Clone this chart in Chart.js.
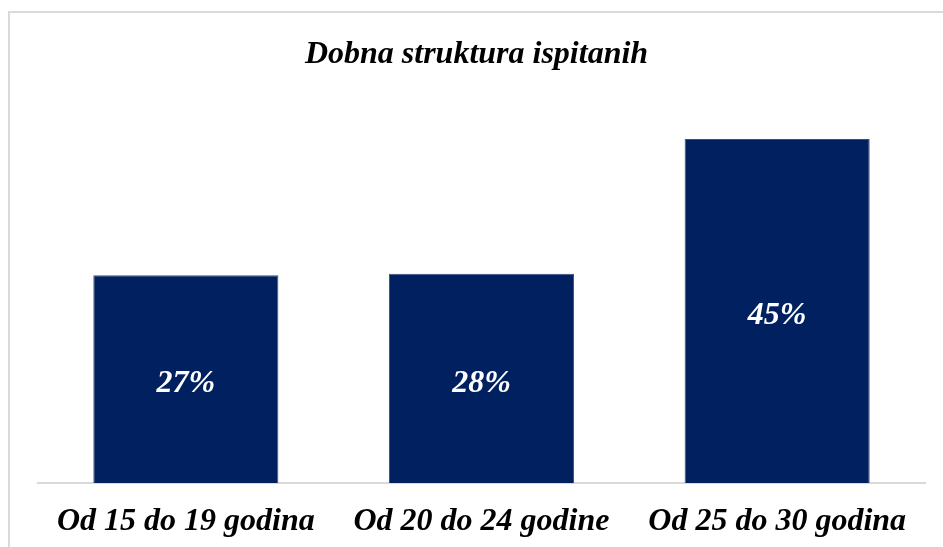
<!doctype html>
<html>
<head>
<meta charset="utf-8">
<title>Dobna struktura ispitanih</title>
<script src="https://cdn.jsdelivr.net/npm/chart.js"></script>
<style>
  html, body { margin: 0; padding: 0; background: #fff; }
  .wrap { position: relative; width: 943px; height: 547px; overflow: hidden; }
  .frame { position: absolute; left: 8px; top: 11px; width: 960px; height: 560px; border: 2px solid #d9d9d9; box-sizing: border-box; }
  canvas { position: absolute; left: 0; top: 0; }
</style>
</head>
<body>
<div class="wrap">
  <div class="frame"></div>
  <canvas id="c" width="943" height="547"></canvas>
</div>
<script>
const categories = ['Od 15 do 19 godina', 'Od 20 do 24 godine', 'Od 25 do 30 godina'];
const shares = [27.3, 27.5, 45.2];
const chartTitle = 'Dobna struktura ispitanih';

const serif = '"Liberation Serif", "Times New Roman", serif';

// white % labels in the middle of each bar
const barLabels = {
  id: 'barLabels',
  afterLayout(chart) {
    // title sits centred on the whole frame, not the plot area
    if (chart.titleBlock) chart.titleBlock.left -= 10;
  },
  afterDatasetsDraw(chart) {
    const ctx = chart.ctx;
    const meta = chart.getDatasetMeta(0);
    ctx.save();
    ctx.fillStyle = '#ffffff';
    ctx.font = 'italic bold 32px ' + serif;
    ctx.textAlign = 'center';
    ctx.textBaseline = 'middle';
    meta.data.forEach((bar, i) => {
      const mid = (bar.y + bar.base) / 2;
      ctx.fillText(Math.round(shares[i]) + '%', bar.x, mid + 5);
    });
    ctx.restore();
  }
};

new Chart(document.getElementById('c'), {
  type: 'bar',
  data: {
    labels: categories,
    datasets: [{
      data: shares,
      backgroundColor: '#002060',
      borderColor: '#3d4f80',
      borderWidth: 1,
      categoryPercentage: 1,
      barPercentage: 0.626
    }]
  },
  options: {
    responsive: false,
    animation: false,
    layout: { padding: { left: 38, right: 18, top: 0, bottom: 8 } },
    plugins: {
      legend: { display: false },
      tooltip: { enabled: false },
      title: {
        display: true,
        text: chartTitle,
        color: '#000',
        font: { family: serif, size: 32, style: 'italic', weight: 'bold', lineHeight: 1.2 },
        padding: { top: 36, bottom: 28 }
      }
    },
    scales: {
      x: {
        grid: { display: false, drawTicks: false },
        border: { display: true, color: '#d9d9d9', width: 2 },
        ticks: {
          color: '#000',
          padding: 20,
          maxRotation: 0,
          font: { family: serif, size: 32, style: 'italic', weight: 'bold', lineHeight: 1.2 }
        },
        afterFit(scale) { scale.height = 56; }
      },
      y: {
        display: false,
        min: 0,
        max: 50
      }
    }
  },
  plugins: [barLabels]
});
</script>
</body>
</html>
